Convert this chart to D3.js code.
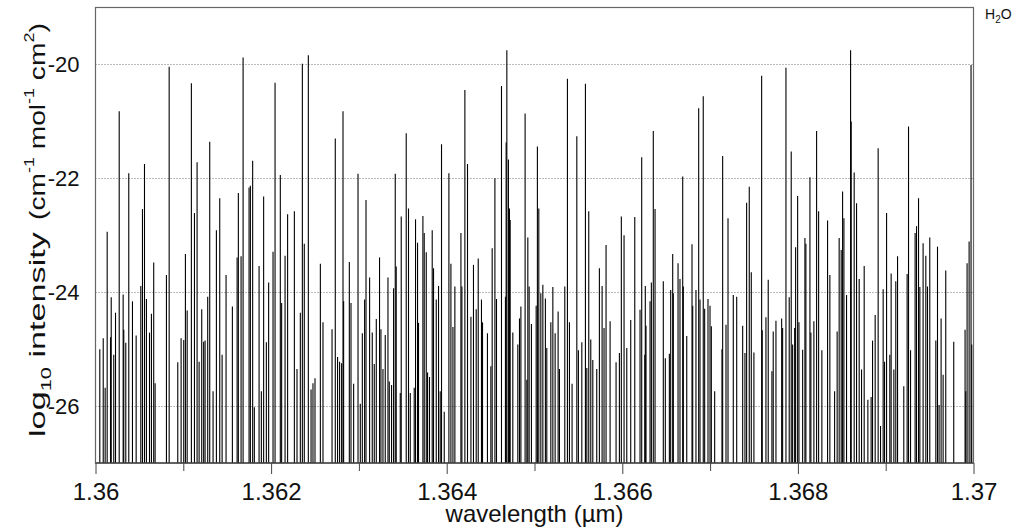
<!DOCTYPE html>
<html>
<head>
<meta charset="utf-8">
<script src="https://cdn.jsdelivr.net/npm/d3@7"></script>
<style>
  body { margin: 0; background: #fff; }
  svg { display: block; font-family: "Liberation Sans", Arial, sans-serif; }
</style>
</head>
<body>
<div id="chart"></div>
<script>
// line positions (um) and log10 intensities
var wavelengths = [
  1.360049, 1.360088, 1.360110, 1.360133, 1.360171, 1.360179, 1.360208, 1.360228, 1.360270, 1.360315,
  1.360322, 1.360345, 1.360379, 1.360421, 1.360463, 1.360516, 1.360535, 1.360558, 1.360580, 1.360615,
  1.360637, 1.360663, 1.360679, 1.360808, 1.360839, 1.360937, 1.360975, 1.361005, 1.361024, 1.361044,
  1.361092, 1.361127, 1.361157, 1.361180, 1.361210, 1.361232, 1.361248, 1.361278, 1.361301, 1.361339,
  1.361377, 1.361415, 1.361442, 1.361487, 1.361559, 1.361613, 1.361627, 1.361658, 1.361681, 1.361749,
  1.361764, 1.361790, 1.361809, 1.361863, 1.361889, 1.361915, 1.361946, 1.361972, 1.362022, 1.362045,
  1.362105, 1.362120, 1.362159, 1.362188, 1.362265, 1.362295, 1.362333, 1.362356, 1.362378, 1.362424,
  1.362455, 1.362477, 1.362500, 1.362561, 1.362591, 1.362694, 1.362731, 1.362757, 1.362780, 1.362803,
  1.362819, 1.362826, 1.362891, 1.362910, 1.362940, 1.362990, 1.363016, 1.363039, 1.363065, 1.363081,
  1.363122, 1.363152, 1.363175, 1.363198, 1.363235, 1.363251, 1.363274, 1.363300, 1.363331, 1.363346,
  1.363372, 1.363395, 1.363414, 1.363425, 1.363471, 1.363482, 1.363539, 1.363565, 1.363585, 1.363630,
  1.363645, 1.363668, 1.363679, 1.363729, 1.363744, 1.363767, 1.363782, 1.363804, 1.363835, 1.363850,
  1.363881, 1.363907, 1.363926, 1.363941, 1.363972, 1.364025, 1.364048, 1.364071, 1.364093, 1.364162,
  1.364173, 1.364207, 1.364237, 1.364276, 1.364305, 1.364336, 1.364359, 1.364396, 1.364408, 1.364464,
  1.364503, 1.364518, 1.364549, 1.364567, 1.364624, 1.364669, 1.364677, 1.364685, 1.364703, 1.364715,
  1.364723, 1.364753, 1.364810, 1.364829, 1.364845, 1.364893, 1.364913, 1.364924, 1.364939, 1.364965,
  1.365019, 1.365033, 1.365049, 1.365072, 1.365095, 1.365124, 1.365140, 1.365186, 1.365209, 1.365235,
  1.365269, 1.365284, 1.365345, 1.365375, 1.365398, 1.365428, 1.365482, 1.365500, 1.365539, 1.365580,
  1.365596, 1.365618, 1.365641, 1.365664, 1.365709, 1.365739, 1.365770, 1.365792, 1.365815, 1.365861,
  1.365929, 1.365967, 1.365989, 1.366020, 1.366051, 1.366096, 1.366142, 1.366202, 1.366221, 1.366256,
  1.366262, 1.366270, 1.366316, 1.366331, 1.366353, 1.366373, 1.366467, 1.366490, 1.366536, 1.366551,
  1.366574, 1.366581, 1.366635, 1.366657, 1.366688, 1.366695, 1.366734, 1.366794, 1.366802, 1.366839,
  1.366870, 1.366885, 1.366922, 1.366938, 1.366976, 1.366999, 1.367014, 1.367052, 1.367135, 1.367143,
  1.367181, 1.367204, 1.367264, 1.367303, 1.367371, 1.367397, 1.367416, 1.367446, 1.367469, 1.367499,
  1.367587, 1.367594, 1.367636, 1.367662, 1.367704, 1.367719, 1.367750, 1.367815, 1.367826, 1.367864,
  1.367901, 1.367924, 1.367940, 1.367963, 1.367974, 1.367997, 1.368012, 1.368054, 1.368080, 1.368091,
  1.368137, 1.368148, 1.368182, 1.368213, 1.368236, 1.368273, 1.368338, 1.368364, 1.368418, 1.368447,
  1.368470, 1.368493, 1.368509, 1.368524, 1.368554, 1.368600, 1.368607, 1.368641, 1.368668, 1.368698,
  1.368725, 1.368755, 1.368797, 1.368834, 1.368850, 1.368880, 1.368914, 1.368941, 1.368971, 1.368987,
  1.369010, 1.369047, 1.369062, 1.369093, 1.369115, 1.369135, 1.369206, 1.369244, 1.369260, 1.369283,
  1.369335, 1.369351, 1.369374, 1.369389, 1.369426, 1.369457, 1.369476, 1.369502, 1.369571, 1.369590,
  1.369608, 1.369631, 1.369654, 1.369684, 1.369775, 1.369904, 1.369912, 1.369927, 1.369950, 1.369972,
  1.369980
]
var logIntensity = [
  -25.00, -24.81, -25.68, -22.94, -24.79, -24.09, -25.10, -24.36, -20.82, -24.04,
  -24.66, -24.89, -21.91, -24.16, -24.76, -23.89, -22.54, -21.75, -24.12, -24.71,
  -24.38, -23.48, -25.60, -23.70, -20.04, -25.23, -24.81, -24.84, -23.33, -24.32,
  -20.33, -22.61, -21.72, -25.22, -24.30, -24.87, -24.85, -24.08, -21.36, -25.74,
  -22.91, -22.35, -25.10, -23.70, -24.25, -23.39, -22.26, -23.37, -19.88, -22.16,
  -22.13, -21.69, -26.02, -23.54, -25.74, -22.32, -24.88, -23.83, -23.29, -20.32,
  -21.94, -24.19, -23.36, -22.63, -22.58, -25.35, -24.36, -19.99, -23.15, -19.84,
  -25.71, -25.60, -25.51, -23.50, -24.53, -24.65, -21.30, -25.14, -25.22, -25.25,
  -20.82, -24.16, -23.47, -24.19, -25.61, -21.92, -25.96, -24.72, -24.13, -22.38,
  -23.74, -24.71, -25.26, -24.47, -23.39, -24.65, -25.35, -24.75, -23.74, -25.57,
  -25.63, -23.93, -21.92, -23.55, -25.77, -22.67, -21.21, -22.53, -25.77, -25.68,
  -22.72, -23.13, -24.54, -22.66, -22.96, -23.30, -25.41, -25.49, -22.91, -23.58,
  -24.13, -23.89, -25.74, -21.40, -26.10, -21.91, -23.50, -24.61, -23.90, -22.96,
  -23.90, -20.45, -21.75, -24.43, -23.52, -24.30, -23.41, -24.13, -24.53, -24.72,
  -25.30, -23.23, -22.00, -24.12, -20.38, -24.08, -21.37, -19.75, -21.67, -22.53,
  -22.73, -24.71, -24.92, -24.46, -24.25, -20.86, -25.54, -23.04, -23.90, -24.56,
  -24.24, -21.44, -22.53, -24.02, -23.87, -24.11, -24.98, -24.53, -23.91, -24.72,
  -24.34, -25.35, -23.90, -20.25, -24.53, -25.61, -21.26, -25.02, -24.88, -20.34,
  -25.33, -22.58, -24.83, -25.19, -25.35, -23.58, -23.89, -24.63, -23.17, -24.51,
  -25.23, -25.07, -22.67, -23.00, -24.98, -24.49, -22.68, -24.31, -21.63, -25.10,
  -23.89, -24.59, -24.16, -23.83, -21.17, -22.54, -23.81, -25.16, -25.08, -23.96,
  -23.33, -24.02, -23.49, -23.77, -21.97, -23.90, -24.77, -23.16, -24.24, -23.96,
  -20.77, -24.13, -20.56, -24.29, -24.12, -24.24, -24.60, -25.74, -25.00, -21.61,
  -24.57, -22.70, -24.05, -24.08, -24.59, -25.07, -22.43, -22.15, -23.65, -25.06,
  -20.20, -24.67, -24.44, -23.78, -25.39, -24.69, -24.50, -24.46, -24.63, -20.06,
  -24.09, -21.53, -24.92, -24.63, -23.21, -22.31, -24.53, -25.01, -23.05, -23.15,
  -21.98, -24.71, -24.51, -21.17, -22.58, -25.02, -22.74, -23.70, -25.74, -24.69,
  -23.05, -23.26, -22.23, -22.70, -24.05, -19.75, -21.00, -21.90, -22.44, -23.77,
  -25.36, -23.54, -25.89, -25.84, -24.85, -24.40, -21.47, -26.35, -23.95, -25.22,
  -22.61, -25.10, -23.67, -25.36, -23.81, -23.37, -25.65, -23.68, -21.09, -25.02,
  -22.96, -22.84, -22.35, -23.91, -23.14, -23.36, -23.90, -23.04, -24.85, -23.20,
  -25.98, -24.46, -25.45, -23.62, -24.87, -24.66, -25.74, -23.49, -23.11, -20.01,
  -24.92
]
var xTicks = [1.360, 1.361, 1.362, 1.363, 1.364, 1.365, 1.366, 1.367, 1.368, 1.369, 1.370]
var xTickLabels = ['1.36', '', '1.362', '', '1.364', '', '1.366', '', '1.368', '', '1.37']
var yTicks = [-20, -22, -24, -26]
var yTickLabels = ['-20', '-22', '-24', '-26']

var width = 1019
var height = 532
var plotLeft = 95.5, plotRight = 973.5, plotTop = 7.5, plotBottom = 463

var svg = d3.select('#chart').append('svg')
    .attr('width', width)
    .attr('height', height)

var x = d3.scaleLinear().domain([1.36, 1.37]).range([plotLeft, plotRight])
var y = d3.scaleLinear().domain([-27, -19]).range([plotBottom, plotTop])

// dotted gridlines
svg.append('g').selectAll('line')
    .data(yTicks)
    .enter()
    .append('line')
    .attr('x1', plotLeft)
    .attr('x2', plotRight)
    .attr('y1', function(d){ return Math.round(y(d)) + 0.5 })
    .attr('y2', function(d){ return Math.round(y(d)) + 0.5 })
    .attr('stroke', '#777')
    .attr('stroke-dasharray', '1,2')

// spectral lines
var lines = d3.range(wavelengths.length).map(function(i){
    return {w: wavelengths[i], v: logIntensity[i]}
})
svg.append('g').selectAll('line')
    .data(lines)
    .enter()
    .append('line')
    .attr('x1', function(d){ return x(d.w) })
    .attr('x2', function(d){ return x(d.w) })
    .attr('y1', y(-27))
    .attr('y2', function(d){ return y(d.v) })
    .attr('stroke', '#000')
    .attr('stroke-width', 1.1)

// frame
svg.append('rect')
    .attr('x', plotLeft)
    .attr('y', plotTop)
    .attr('width', plotRight - plotLeft)
    .attr('height', plotBottom - plotTop)
    .attr('fill', 'none')
    .attr('stroke', '#666')
    .attr('stroke-width', 1.2)

svg.append('line')
    .attr('x1', plotLeft).attr('x2', plotRight)
    .attr('y1', plotBottom).attr('y2', plotBottom)
    .attr('stroke', '#222')

// x axis
var xAxis = d3.axisBottom(x)
    .tickValues(xTicks)
    .tickSize(0)
    .tickFormat(function(d, i){ return xTickLabels[i] })

var gx = svg.append('g')
    .attr('transform', 'translate(0,' + plotBottom + ')')
    .call(xAxis)
gx.select('.domain').remove()
gx.selectAll('.tick line')
    .attr('y2', function(d, i){ return xTickLabels[i] ? 11 : 8 })
    .attr('stroke', '#444')
gx.selectAll('.tick text')
    .attr('y', 20)
    .attr('dy', '0.71em')
    .attr('font-size', 24)
    .attr('font-family', '"Liberation Sans", Arial, sans-serif')
    .attr('fill', '#111')

// y axis
var yAxis = d3.axisLeft(y)
    .tickValues(yTicks)
    .tickSize(0)
    .tickFormat(function(d, i){ return yTickLabels[i] })

var gy = svg.append('g')
    .attr('transform', 'translate(' + plotLeft + ',0)')
    .call(yAxis)
gy.select('.domain').remove()
gy.selectAll('.tick text')
    .attr('x', -16)
    .attr('font-size', 22)
    .attr('font-family', '"Liberation Sans", Arial, sans-serif')
    .attr('fill', '#111')

// axis titles
svg.append('text')
    .attr('x', (plotLeft + plotRight) / 2)
    .attr('y', 522)
    .attr('text-anchor', 'middle')
    .attr('font-size', 24)
    .attr('fill', '#111')
    .text('wavelength (\u00b5m)')

function stretchedLabel(parts, x0, yStart, yEnd){
    var t = svg.append('text')
        .attr('font-size', 22)
        .attr('fill', '#111')
    parts.forEach(function(p){
        var s = t.append('tspan').text(p.text)
        if(p.sub) s.attr('font-size', 14).attr('dy', 6)
        if(p.sup) s.attr('font-size', 14).attr('dy', -11)
        if(p.back) s.attr('dy', p.back)
    })
    var len = t.node().getComputedTextLength()
    var k = (yStart - yEnd) / len
    t.attr('transform', 'translate(' + x0 + ',' + yStart + ') rotate(-90) scale(' + k + ',1)')
}

stretchedLabel([
    {text: 'log'}, {text: '10', sub: true}, {text: ' intensity', back: -6}
], 45, 437, 232)

stretchedLabel([
    {text: '(cm'}, {text: '-1', sup: true}, {text: ' mol', back: 11},
    {text: '-1', sup: true}, {text: ' cm', back: 11}, {text: '2', sup: true},
    {text: ')', back: 11}
], 45, 220, 23)

// species label
var h2o = svg.append('text')
    .attr('x', 985)
    .attr('y', 19)
    .attr('font-size', 14)
    .attr('fill', '#111')
h2o.append('tspan').text('H')
h2o.append('tspan').text('2').attr('font-size', 10).attr('dy', 4)
h2o.append('tspan').text('O').attr('dy', -4)
</script>
</body>
</html>
